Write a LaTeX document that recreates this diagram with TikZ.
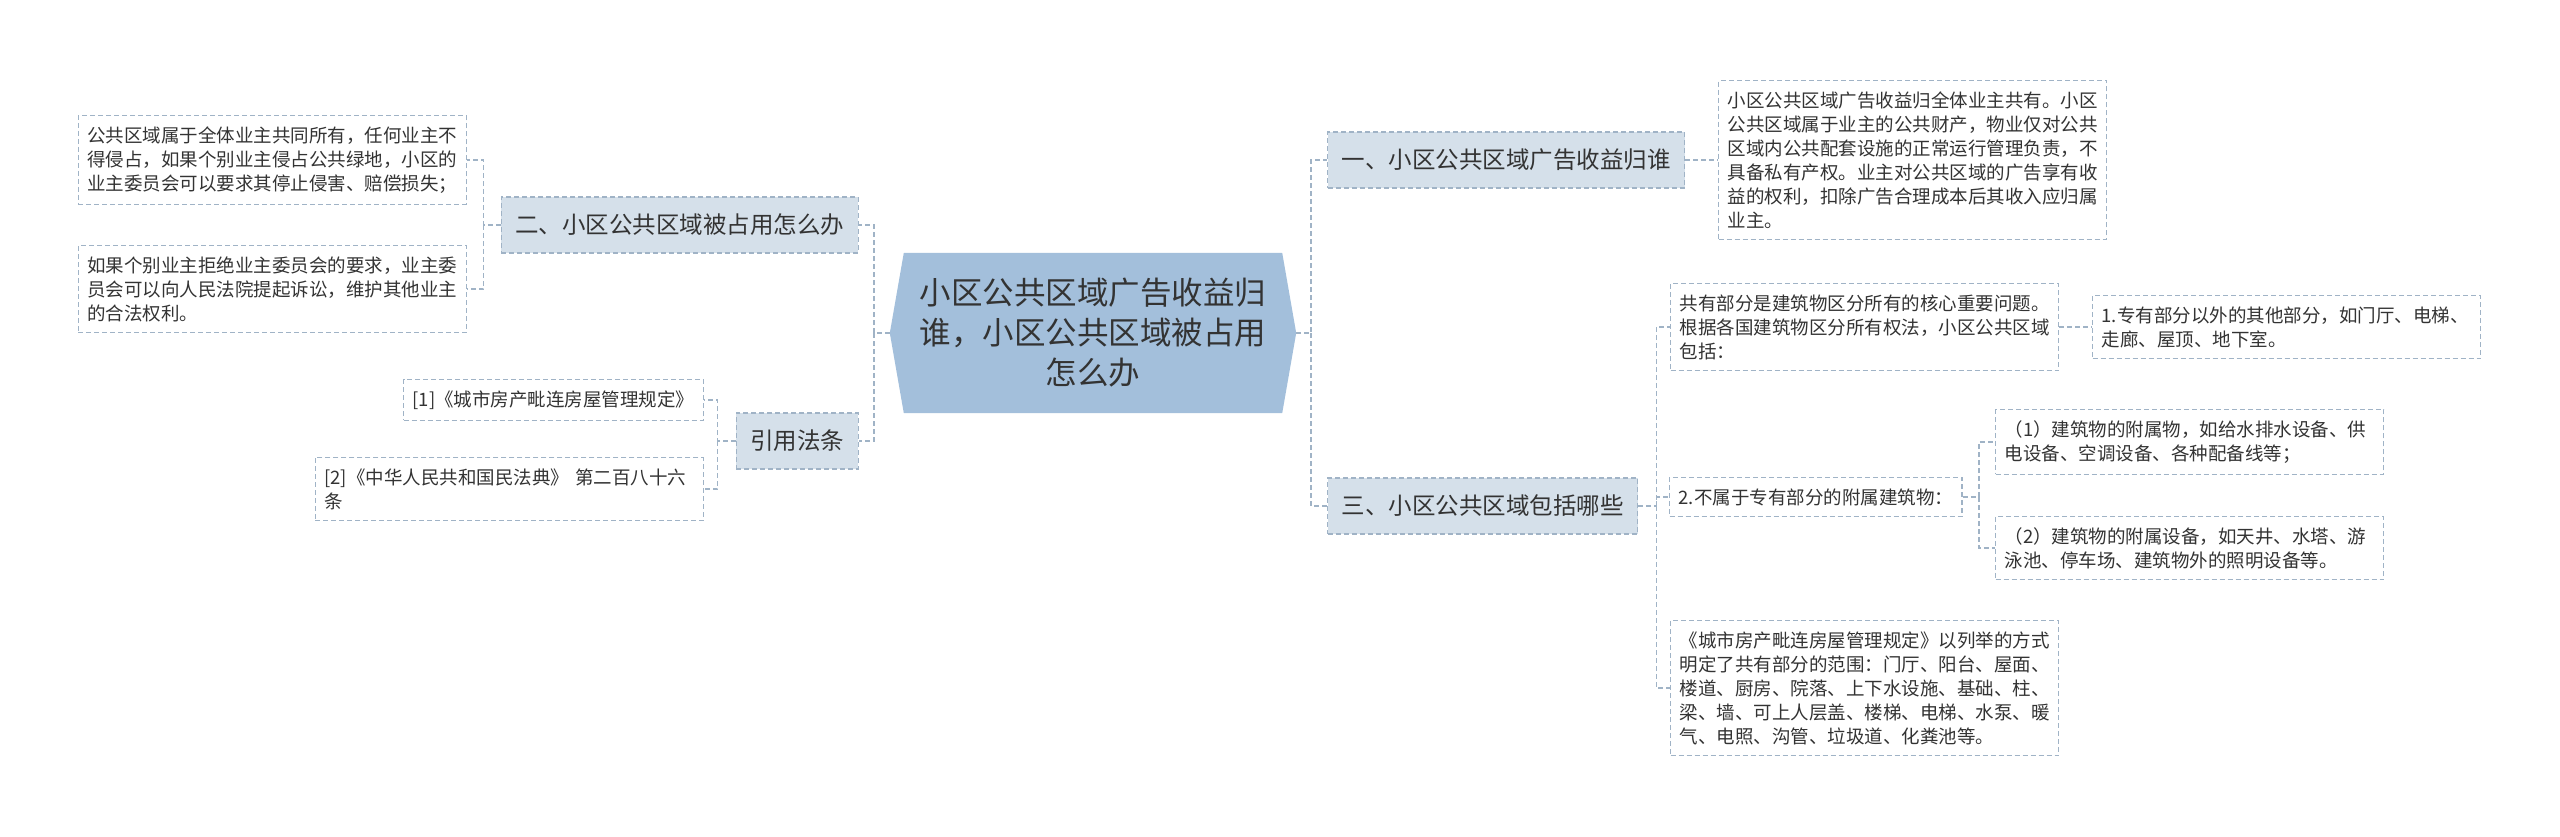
\documentclass[tikz,border=0pt]{standalone}
\usepackage{fontspec}
\newfontfamily\cjk{Noto Sans CJK SC}
\usepackage{xcolor}
\usepackage{tikz}
\usetikzlibrary{backgrounds}

\definecolor{rootfill}{HTML}{A3BFDB}
\definecolor{topicfill}{HTML}{D5E0EA}
\definecolor{edge}{HTML}{A0B3C6}
\definecolor{ink}{HTML}{333333}

\begin{document}
\begin{tikzpicture}[
    x=1pt, y=-1pt,
    rootbox/.style={minimum width=378pt, minimum height=160pt, text width=350pt, align=center, text=ink,
                    font=\cjk\fontsize{31.5pt}{40pt}\selectfont},
    topic/.style={fill=topicfill, draw=edge, line width=1.4pt, dash pattern=on 5pt off 3pt,
                  minimum height=56pt, inner xsep=14pt, text=ink, font=\cjk\fontsize{23.5pt}{28pt}\selectfont},
    note/.style={fill=white, draw=edge, line width=1.4pt, dash pattern=on 5pt off 3pt,
                 inner xsep=9pt, inner ysep=11pt, align=left, text=ink, font=\cjk\fontsize{18.5pt}{24pt}\selectfont},
    wide/.style={note, text width=370pt},
    link/.style={draw=edge, line width=1.5pt, dash pattern=on 5pt off 3pt}
]
\useasboundingbox (0,0) rectangle (2560,837);

% centre topic
\node[rootbox] (root) at (1093,333) {小区公共区域广告收益归\\谁，小区公共区域被占用\\怎么办};
\coordinate (rootR) at ([xshift=14pt]root.east);
\coordinate (rootL) at ([xshift=-14pt]root.west);
\begin{pgfonlayer}{background}
\fill[rootfill] (root.north west) -- (root.north east) -- (rootR) -- (root.south east)
    -- (root.south west) -- (rootL) -- cycle;
\end{pgfonlayer}

% main topics
\node[topic, anchor=west] (b1) at (1327,160) {一、小区公共区域广告收益归谁};
\node[topic, anchor=west] (b3) at (1327,506) {三、小区公共区域包括哪些};
\node[topic, anchor=east] (b2) at (859,225) {二、小区公共区域被占用怎么办};
\node[topic, anchor=east] (ref) at (859,441) {引用法条};

% notes
\node[wide, anchor=west] (a1) at (1718,160) {小区公共区域广告收益归全体业主共有。小区\\公共区域属于业主的公共财产，物业仅对公共\\区域内公共配套设施的正常运行管理负责，不\\具备私有产权。业主对公共区域的广告享有收\\益的权利，扣除广告合理成本后其收入应归属\\业主。};

\node[wide, anchor=east] (l1) at (467,160) {公共区域属于全体业主共同所有，任何业主不\\得侵占，如果个别业主侵占公共绿地，小区的\\业主委员会可以要求其停止侵害、赔偿损失；};
\node[wide, anchor=east] (l2) at (467,289) {如果个别业主拒绝业主委员会的要求，业主委\\员会可以向人民法院提起诉讼，维护其他业主\\的合法权利。};

\node[note, anchor=east] (r1) at (704,400) {[1]《城市房产毗连房屋管理规定》};
\node[wide, anchor=east] (r2) at (704,489) {[2]《中华人民共和国民法典》 第二百八十六\\条};

\node[wide, anchor=west] (c1) at (1670,327) {共有部分是建筑物区分所有的核心重要问题。\\根据各国建筑物区分所有权法，小区公共区域\\包括：};
\node[wide, anchor=west] (c1a) at (2092,327) {1.专有部分以外的其他部分，如门厅、电梯、\\走廊、屋顶、地下室。};
\node[note, anchor=west] (c2) at (1669,497) {2.不属于专有部分的附属建筑物：};
\node[wide, anchor=west] (c2a) at (1995,442) {（1）建筑物的附属物，如给水排水设备、供\\电设备、空调设备、各种配备线等；};
\node[wide, anchor=west] (c2b) at (1995,548) {（2）建筑物的附属设备，如天井、水塔、游\\泳池、停车场、建筑物外的照明设备等。};
\node[wide, anchor=west] (c3) at (1670,688) {《城市房产毗连房屋管理规定》以列举的方式\\明定了共有部分的范围：门厅、阳台、屋面、\\楼道、厨房、院落、上下水设施、基础、柱、\\梁、墙、可上人层盖、楼梯、电梯、水泵、暖\\气、电照、沟管、垃圾道、化粪池等。};

% connectors
\draw[link] (rootR) -- ++(15,0) coordinate (jr) |- (b1.west);
\draw[link] (jr) |- (b3.west);
\draw[link] (rootL) -- ++(-16,0) coordinate (jl) |- (b2.east);
\draw[link] (jl) |- (ref.east);

\draw[link] (b1.east) -- (a1.west);
\draw[link] (b2.west) -- ++(-17,0) coordinate (j2) |- (l1.east);
\draw[link] (j2) |- (l2.east);
\draw[link] (ref.west) -- ++(-18,0) coordinate (j4) |- (r1.east);
\draw[link] (j4) |- (r2.east);
\draw[link] (b3.east) -- ++(18,0) coordinate (j3) |- (c1.west);
\draw[link] (j3) |- (c2.west);
\draw[link] (j3) |- (c3.west);
\draw[link] (c1.east) -- (c1a.west);
\draw[link] (c2.east) -- ++(16,0) coordinate (j5) |- (c2a.west);
\draw[link] (j5) |- (c2b.west);
\end{tikzpicture}
\end{document}
